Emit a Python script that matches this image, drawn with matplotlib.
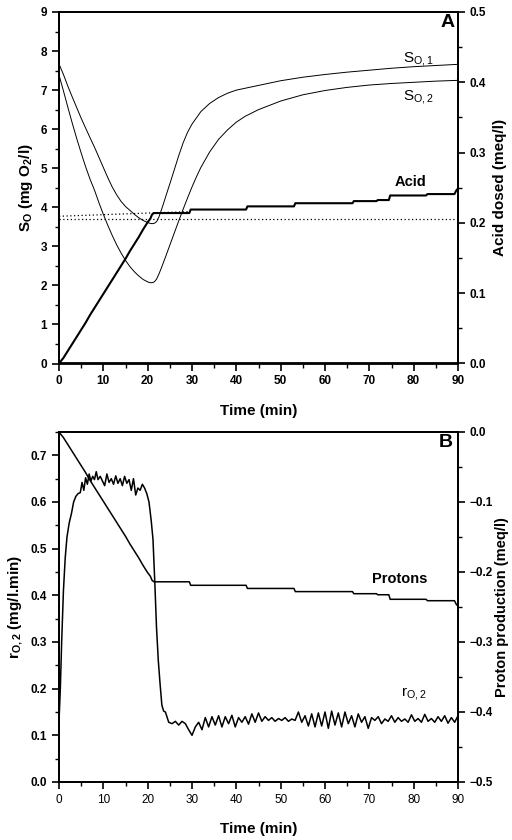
import matplotlib
matplotlib.use("Agg")
import matplotlib.pyplot as plt
import numpy as np
from matplotlib.ticker import MultipleLocator

plt.rcParams['font.family'] = ['Liberation Sans', 'DejaVu Sans']
plt.rcParams['mathtext.fontset'] = 'custom'
plt.rcParams['mathtext.rm'] = 'Liberation Sans:bold'
plt.rcParams['mathtext.it'] = 'Liberation Sans:bold'
plt.rcParams['mathtext.bf'] = 'Liberation Sans:bold'

# ---------------- Panel A data ----------------
t_s1 = [0, 1, 2, 3, 4, 5, 6, 7, 8, 9, 10, 11, 12, 13, 14, 15, 16, 17, 18, 19, 20,
        20.5, 21, 21.5, 22, 22.5, 23, 23.5,
        24, 25, 26, 27, 28, 29, 30,
        32, 34, 36, 38, 40,
        45, 50, 55, 60, 65, 70, 75, 80, 85, 90]
s_o1 = [7.67, 7.40, 7.10, 6.82, 6.55, 6.28, 6.03, 5.78, 5.54, 5.28, 5.02, 4.76, 4.52, 4.32, 4.15, 4.02, 3.92, 3.82, 3.73, 3.66, 3.61,
        3.59, 3.58, 3.59, 3.63, 3.74, 3.90, 4.07,
        4.25, 4.60, 4.96, 5.32, 5.65, 5.92, 6.13,
        6.45, 6.66, 6.81, 6.92, 7.00,
        7.12, 7.24, 7.33, 7.40, 7.46, 7.51, 7.56, 7.60, 7.63, 7.66]

t_s2 = [0, 1, 2, 3, 4, 5, 6, 7, 8, 9, 10, 11, 12, 13, 14, 15, 16, 17, 18, 19, 20,
        20.5, 21, 21.5, 22, 22.5, 23,
        24, 25, 26, 27, 28, 29, 30, 31, 32,
        34, 36, 38, 40, 42, 45,
        50, 55, 60, 65, 70, 75, 80, 85, 90]
s_o2 = [7.39, 6.98, 6.56, 6.15, 5.76, 5.39, 5.04, 4.72, 4.44, 4.12, 3.82, 3.54, 3.28, 3.04, 2.83, 2.64, 2.48, 2.35, 2.24, 2.15, 2.09,
        2.07, 2.07, 2.09, 2.16, 2.28, 2.42,
        2.72, 3.03, 3.34, 3.65, 3.95, 4.24, 4.52, 4.78, 5.02,
        5.42, 5.74, 5.98, 6.18, 6.33, 6.50,
        6.72, 6.88, 6.99, 7.07, 7.13, 7.17, 7.20, 7.23, 7.25]

t_acid = [0, 1, 2, 3, 4, 5, 6, 7, 8, 9, 10, 11, 12, 13, 14, 15, 16, 17, 18, 19, 20,
          20.6, 21.0, 21.4, 29.4, 29.7, 42.2, 42.5, 53.0, 53.3, 66.2, 66.5,
          71.6, 71.9, 74.4, 74.7, 82.8, 83.1, 89.2, 89.6, 90]
acid = [0, 0.008, 0.018, 0.028, 0.038, 0.048, 0.058, 0.069, 0.079, 0.089, 0.099, 0.109,
        0.119, 0.129, 0.139, 0.149, 0.160, 0.170, 0.180, 0.191, 0.201,
        0.206, 0.212, 0.214, 0.214, 0.219, 0.219, 0.2235, 0.2235, 0.228, 0.228, 0.231,
        0.231, 0.2325, 0.2325, 0.239, 0.239, 0.241, 0.241, 0.246, 0.249]

t_dot1 = [0, 29.5]
dot1 = [3.77, 3.89]
t_dot2 = [0, 90]
dot2 = [3.70, 3.70]

# ---------------- Panel B data ----------------
t_prot = t_acid
protons = [0, -0.008, -0.018, -0.028, -0.038, -0.048, -0.058, -0.069, -0.079, -0.089, -0.099, -0.109,
           -0.119, -0.129, -0.139, -0.149, -0.160, -0.170, -0.180, -0.191, -0.201,
           -0.206, -0.212, -0.214, -0.214, -0.219, -0.219, -0.2235, -0.2235, -0.228, -0.228, -0.231,
           -0.231, -0.2325, -0.2325, -0.239, -0.239, -0.241, -0.241, -0.246, -0.249]

t_r_early = [0, 0.3, 0.6, 1.0, 1.4, 1.8, 2.3, 2.8, 3.3, 3.8, 4.3, 4.8, 5.2, 5.6, 6.0, 6.4, 6.8,
             7.2, 7.6, 8.0, 8.4, 8.8, 9.3, 9.8, 10.3, 10.8, 11.3, 11.8, 12.3, 12.8, 13.3, 13.8,
             14.3, 14.8, 15.3, 15.8, 16.3, 16.8, 17.3, 17.8, 18.3, 18.8, 19.3, 19.8, 20.3,
             20.8, 21.2, 21.6, 22.0, 22.4, 22.8, 23.2, 23.6]
r_early = [0.13, 0.20, 0.30, 0.41, 0.48, 0.525, 0.555, 0.575, 0.60, 0.612, 0.618, 0.62, 0.642,
           0.625, 0.652, 0.638, 0.66, 0.645, 0.655, 0.648, 0.665, 0.648, 0.655, 0.645, 0.635,
           0.66, 0.642, 0.65, 0.638, 0.656, 0.64, 0.65, 0.635, 0.655, 0.64, 0.648, 0.625, 0.65,
           0.615, 0.63, 0.625, 0.638, 0.63, 0.618, 0.60, 0.56, 0.52, 0.43, 0.33, 0.26, 0.21,
           0.165, 0.152]
r_late = [0.150, 0.128, 0.125, 0.130, 0.122, 0.130, 0.125, 0.112, 0.100, 0.118, 0.128, 0.112,
          0.138, 0.118, 0.140, 0.122, 0.142, 0.118, 0.140, 0.125, 0.143, 0.118, 0.138, 0.128,
          0.140, 0.124, 0.146, 0.128, 0.148, 0.130, 0.140, 0.132, 0.138, 0.130, 0.136, 0.132,
          0.138, 0.130, 0.135, 0.132, 0.150, 0.128, 0.142, 0.120, 0.146, 0.118, 0.148, 0.120,
          0.150, 0.115, 0.152, 0.122, 0.148, 0.118, 0.150, 0.125, 0.142, 0.118, 0.146, 0.128,
          0.140, 0.115, 0.138, 0.132, 0.140, 0.125, 0.135, 0.130, 0.142, 0.128, 0.138, 0.130,
          0.135, 0.128, 0.144, 0.130, 0.136, 0.128, 0.145, 0.130, 0.136, 0.128, 0.140, 0.130,
          0.142, 0.126, 0.138, 0.128, 0.142]
t_r_late = np.linspace(24, 90, len(r_late))

# ---------------- Figure ----------------
fig = plt.figure(figsize=(5.12, 8.4), dpi=100)
W, H = 512, 840
axA = fig.add_axes([59 / W, 1 - 363.5 / H, 399 / W, 351.5 / H])
axB = fig.add_axes([59 / W, 1 - 782 / H, 399 / W, 350 / H])

lab_font = dict(fontsize=11, fontweight='bold')


def style(ax):
    for s in ax.spines.values():
        s.set_linewidth(1.3)
    ax.tick_params(which='major', direction='out', length=5, width=1.2)
    ax.tick_params(which='minor', direction='out', length=3, width=1.0)
    ax.tick_params(top=False, which='both')


# ----- Panel A
axA.plot(t_s1, s_o1, color='black', lw=0.7)
axA.plot(t_s2, s_o2, color='black', lw=0.7)
axA.plot(t_dot1, dot1, color='black', lw=0.9, ls=(0, (1, 2)))
axA.plot(t_dot2, dot2, color='black', lw=0.9, ls=(0, (1, 2)))
axA.set_xlim(0, 90)
axA.set_ylim(0, 9)
axA.xaxis.set_major_locator(MultipleLocator(10))
axA.xaxis.set_minor_locator(MultipleLocator(5))
axA.yaxis.set_major_locator(MultipleLocator(1))
axA.yaxis.set_minor_locator(MultipleLocator(0.5))
style(axA)
axA.set_xlabel('Time (min)', labelpad=12, **lab_font)
axA.set_ylabel(r'S$_\mathregular{O}$ (mg O$_\mathregular{2}$/l)', labelpad=4, **lab_font)

axAr = axA.twinx()
axAr.plot(t_acid, acid, color='black', lw=1.5)
axAr.set_ylim(0, 0.5)
axAr.yaxis.set_major_locator(MultipleLocator(0.1))
axAr.yaxis.set_minor_locator(MultipleLocator(0.05))
style(axAr)
axAr.set_ylabel('Acid dosed (meq/l)', labelpad=5, **lab_font)
for lab in axA.get_xticklabels() + axA.get_yticklabels() + axAr.get_yticklabels():
    lab.set_fontsize(8.5)
    lab.set_fontweight('bold')

axA.text(87.6, 8.72, 'A', fontsize=14, fontweight='bold', ha='center', va='center')
axA.text(81, 7.8, r'S$_\mathregular{O,1}$', fontsize=11, ha='center', va='center')
axA.text(81, 6.82, r'S$_\mathregular{O,2}$', fontsize=11, ha='center', va='center')
axA.text(79.2, 4.66, 'Acid', fontsize=10.5, fontweight='bold', ha='center', va='center')

# ----- Panel B
axB.plot(np.concatenate([t_r_early, t_r_late]), np.concatenate([r_early, r_late]),
         color='black', lw=1.1)
axB.set_xlim(0, 90)
axB.set_ylim(0, 0.75)
axB.xaxis.set_major_locator(MultipleLocator(10))
axB.xaxis.set_minor_locator(MultipleLocator(5))
axB.yaxis.set_major_locator(MultipleLocator(0.1))
axB.yaxis.set_minor_locator(MultipleLocator(0.05))
style(axB)
axB.set_xlabel('Time (min)', labelpad=12, **lab_font)
axB.set_ylabel(r'r$_\mathregular{O,2}$ (mg/l.min)', labelpad=4, **lab_font)

axBr = axB.twinx()
axBr.plot(t_prot, protons, color='black', lw=1.1)
axBr.set_ylim(-0.5, 0)
axBr.yaxis.set_major_locator(MultipleLocator(0.1))
axBr.yaxis.set_minor_locator(MultipleLocator(0.05))
style(axBr)
axBr.set_ylabel('Proton production (meq/l)', labelpad=1, fontsize=10.5, fontweight='bold')
for lab in axB.get_yticklabels() + axBr.get_yticklabels():
    lab.set_fontsize(8.5)
    lab.set_fontweight('bold')
for lab in axB.get_xticklabels():
    lab.set_fontsize(8.5)

axB.text(87.2, 0.728, 'B', fontsize=14, fontweight='bold', ha='center', va='center')
axB.text(76.9, 0.435, 'Protons', fontsize=10.5, fontweight='bold', ha='center', va='center')
axB.text(80, 0.19, r'r$_\mathregular{O,2}$', fontsize=11, ha='center', va='center')

fig.savefig('out.png', dpi=100)
